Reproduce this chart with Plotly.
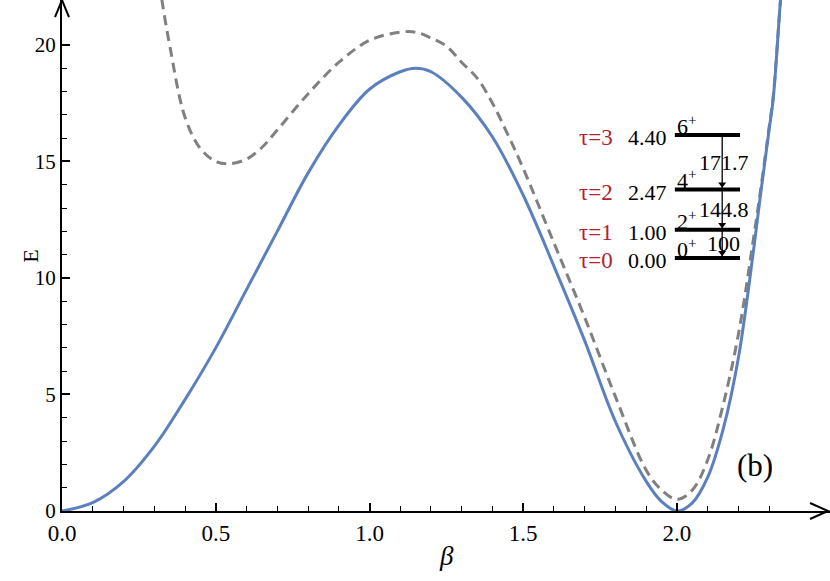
import plotly.graph_objects as go

# ---- data ----
beta_solid = [0.0, 0.1, 0.2, 0.3, 0.4, 0.5, 0.6, 0.7, 0.8, 0.9, 1.0, 1.1, 1.15,
              1.2, 1.3, 1.4, 1.5, 1.6, 1.7, 1.8, 1.9, 1.95, 2.0, 2.05, 2.1, 2.15,
              2.2, 2.25, 2.27, 2.3, 2.313, 2.337, 2.35]
E_solid = [0.0, 0.36, 1.26, 2.77, 4.78, 7.0, 9.5, 12.0, 14.5, 16.55, 18.1, 18.85, 19.0,
           18.85, 17.75, 16.05, 13.55, 10.5, 7.3, 3.83, 1.27, 0.4, 0.0, 0.35, 1.45, 3.5,
           6.6, 11.3, 13.4, 16.4, 17.7, 22.0, 24.0]

beta_dash = [0.31, 0.324, 0.35, 0.4, 0.45, 0.5, 0.54, 0.6, 0.65, 0.7, 0.8, 0.9, 1.0,
             1.1, 1.15, 1.2, 1.25, 1.3, 1.35, 1.4, 1.45, 1.5, 1.6, 1.7, 1.8, 1.9,
             1.95, 2.0, 2.05, 2.1, 2.15, 2.2, 2.25, 2.27, 2.3, 2.313, 2.337, 2.35]
E_dash = [23.3, 22.0, 20.0, 16.9, 15.55, 15.0, 14.9, 15.1, 15.6, 16.35, 17.9, 19.25, 20.2,
          20.55, 20.55, 20.3, 19.95, 19.25, 18.58, 17.5, 16.15, 14.7, 11.5, 8.3, 4.9, 1.75,
          0.9, 0.5, 0.9, 2.2, 4.55, 7.6, 11.8, 13.6, 16.5, 17.8, 22.0, 24.0]

level_E = [10.86, 12.07, 13.80, 16.14]          # level heights on the E axis
level_ratio = ["0.00", "1.00", "2.47", "4.40"]
level_tau = ["τ=0", "τ=1", "τ=2", "τ=3"]
level_spin = ["0<sup>+</sup>", "2<sup>+</sup>", "4<sup>+</sup>", "6<sup>+</sup>"]
transition_B = ["100", "144.8", "171.7"]

x_major = [0.0, 0.5, 1.0, 1.5, 2.0]
x_major_text = ["0.0", "0.5", "1.0", "1.5", "2.0"]
x_minor = [0.1, 0.2, 0.3, 0.4, 0.6, 0.7, 0.8, 0.9, 1.1, 1.2, 1.3, 1.4,
           1.6, 1.7, 1.8, 1.9, 2.1, 2.2, 2.3]
y_major = [0, 5, 10, 15, 20]
y_minor = [1, 2, 3, 4, 6, 7, 8, 9, 11, 12, 13, 14, 16, 17, 18, 19]

# ---- style ----
FONT = "Liberation Serif"
BLUE = "#5b80bd"
GRAY = "#808080"
RED = "#b5202c"
LX0, LX1 = 1.993, 2.205
ARROW_X = 2.147

fig = go.Figure()
fig.add_trace(go.Scatter(x=beta_dash, y=E_dash, mode="lines",
                         line=dict(color=GRAY, width=3, dash="10px,6px", shape="spline",
                                   smoothing=1.0),
                         hoverinfo="skip"))
fig.add_trace(go.Scatter(x=beta_solid, y=E_solid, mode="lines",
                         line=dict(color=BLUE, width=3, shape="spline", smoothing=1.0),
                         hoverinfo="skip"))

# energy levels
for e in level_E:
    fig.add_trace(go.Scatter(x=[LX0, LX1], y=[e, e], mode="lines",
                             line=dict(color="black", width=4), hoverinfo="skip"))

# transition line with arrowheads at each lower level
fig.add_trace(go.Scatter(x=[ARROW_X, ARROW_X], y=[level_E[-1], level_E[0]], mode="lines",
                         line=dict(color="black", width=1.3), hoverinfo="skip"))
fig.add_trace(go.Scatter(x=[ARROW_X] * 3, y=[e + 0.22 for e in level_E[:3]], mode="markers",
                         marker=dict(symbol="triangle-down", size=7, color="black",
                                     line=dict(width=0)),
                         hoverinfo="skip"))

annotations = []
for i, b in enumerate(transition_B):
    hi, lo = level_E[i + 1], level_E[i]
    annotations.append(dict(x=ARROW_X + 0.005, y=(hi + lo) / 2, xref="x", yref="y",
                            text=b, showarrow=False, xanchor="center", yanchor="middle",
                            font=dict(family=FONT, size=22, color="black")))
for e, r, t, s in zip(level_E, level_ratio, level_tau, level_spin):
    annotations.append(dict(x=LX0 + 0.002, y=e, xref="x", yref="y", text=s, showarrow=False,
                            xanchor="left", yanchor="middle", yshift=10,
                            font=dict(family=FONT, size=22, color="black")))
    annotations.append(dict(x=1.973, y=e, xref="x", yref="y", text=r, showarrow=False,
                            xanchor="right", yanchor="middle", yshift=-3,
                            font=dict(family=FONT, size=22, color="black")))
    annotations.append(dict(x=1.80, y=e, xref="x", yref="y", text=t, showarrow=False,
                            xanchor="right", yanchor="middle", yshift=-3,
                            font=dict(family=FONT, size=23, color=RED)))

# axis titles and panel label
annotations.append(dict(x=(446 - 62) / 768, y=-0.088, xref="paper", yref="paper",
                        text="<i>β</i>", showarrow=False, xanchor="center", yanchor="middle",
                        font=dict(family=FONT, size=27, color="black")))
annotations.append(dict(x=-0.042, y=(511 - 256) / 511, xref="paper", yref="paper",
                        text="E", showarrow=False, textangle=-90, xanchor="center",
                        yanchor="middle", font=dict(family=FONT, size=22, color="black")))
annotations.append(dict(x=2.254, y=1.97, xref="x", yref="y", text="(b)", showarrow=False,
                        xanchor="center", yanchor="middle",
                        font=dict(family=FONT, size=31, color="black")))

# axis arrowheads (paper coordinates)
shapes = [
    dict(type="path", xref="paper", yref="paper",
         path="M 0.974 0.0157 L 0.9974 0 L 0.974 -0.0157",
         line=dict(color="black", width=2)),
    dict(type="path", xref="paper", yref="paper",
         path="M -0.0091 0.9667 L 0 1.0 L 0.0091 0.9667",
         line=dict(color="black", width=2)),
]

fig.update_layout(
    width=830, height=581,
    margin=dict(l=62, r=0, t=0, b=70),
    plot_bgcolor="white", paper_bgcolor="white",
    showlegend=False,
    annotations=annotations, shapes=shapes,
    xaxis=dict(range=[0, 2.4976], showline=True, linecolor="black", linewidth=2,
               ticks="inside", ticklen=8, tickwidth=1.5, tickcolor="black",
               tickmode="array", tickvals=x_major, ticktext=x_major_text,
               minor=dict(tickmode="array", tickvals=x_minor, ticks="inside",
                          ticklen=5, tickwidth=1.2, tickcolor="black"),
               showgrid=False, zeroline=False,
               tickfont=dict(family=FONT, size=23, color="black")),
    yaxis=dict(range=[0, 21.93], showline=True, linecolor="black", linewidth=2,
               ticks="inside", ticklen=8, tickwidth=1.5, tickcolor="black",
               tickmode="array", tickvals=y_major,
               minor=dict(tickmode="array", tickvals=y_minor, ticks="inside",
                          ticklen=5, tickwidth=1.2, tickcolor="black"),
               showgrid=False, zeroline=False,
               tickfont=dict(family=FONT, size=21, color="black")),
)

fig.write_html("out.html", config={"displayModeBar": False},
               post_script="document.body.style.margin='0px';")
